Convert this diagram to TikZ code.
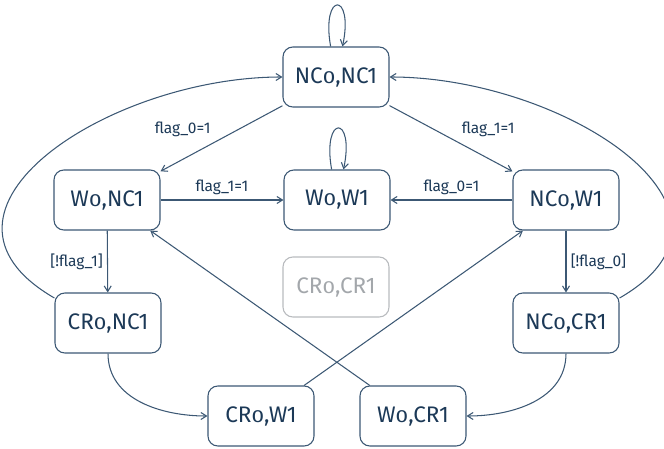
\documentclass[tikz,border=0pt]{standalone}
\usepackage{fontspec}
\setmainfont{Fira Sans}
\usetikzlibrary{arrows.meta,positioning}
\definecolor{statefg}{HTML}{1C3957}
\definecolor{statebd}{HTML}{3C5874}
\definecolor{offfg}{HTML}{A3A7AB}
\definecolor{offbd}{HTML}{B8BBBE}
\newcommand{\lowzero}{\scalebox{1}[0.78]{0}}

\begin{document}
\begin{tikzpicture}[
    x=0.025cm, y=-0.025cm,
    state/.style={draw=statebd, line width=0.75pt, rounded corners=7pt, text=statefg,
        minimum width=106*0.025cm, minimum height=60*0.025cm, inner sep=0,
        font=\fontsize{16}{18}\selectfont},
    unreached/.style={state, draw=offbd, text=offfg},
    trans/.style={draw=statebd, line width=0.75pt, -{Straight Barb[length=4pt,width=5pt]}},
    guard/.style={text=statefg, inner sep=3pt, font=\fontsize{11}{13}\selectfont}]
\useasboundingbox (0,0) rectangle (664,448);

\node[state] (NCNC) at (336,77)  {NC\lowzero,NC1};
\node[state] (WNC)  at (107,200) {W\lowzero,NC1};
\node[state] (WW)   at (337,200) {W\lowzero,W1};
\node[state] (NCW)  at (566,200) {NC\lowzero,W1};
\node[unreached] (CRCR) at (336,287) {CR\lowzero,CR1};
\node[state] (CRNC) at (108,323) {CR\lowzero,NC1};
\node[state] (NCCR) at (566,323) {NC\lowzero,CR1};
\node[state] (CRW)  at (261,416) {CR\lowzero,W1};
\node[state] (WCR)  at (413,416) {W\lowzero,CR1};

\path[trans] (NCNC) edge[out=100, in=78, looseness=9, min distance=40] (NCNC);
\path[trans] (WW) edge[out=100, in=78, looseness=9, min distance=40] (WW);

\path[trans] (NCNC) -- node[pos=0.55, above left, guard] {flag\_0=1} (WNC);
\path[trans] (NCNC) -- node[pos=0.55, above right, guard] {flag\_1=1} (NCW);
\path[trans] (WNC) -- node[midway, above, guard] {flag\_1=1} (WW);
\path[trans] (NCW) -- node[midway, above, guard] {flag\_0=1} (WW);
\path[trans] (WNC) -- node[midway, left, guard] {[!flag\_1]} (CRNC);
\path[trans] (NCW) -- node[midway, right, guard] {[!flag\_0]} (NCCR);

\path[trans] (CRNC.155) to[out=150, in=180, looseness=1.4] (NCNC.west);
\path[trans] (NCCR.25) to[out=30, in=0, looseness=1.4] (NCNC.east);
\path[trans] (CRNC.south) to[out=-90, in=180] (CRW.west);
\path[trans] (NCCR.south) to[out=-90, in=0] (WCR.east);
\path[trans] (CRW) -- (NCW);
\path[trans] (WCR) -- (WNC);

\end{tikzpicture}
\end{document}
